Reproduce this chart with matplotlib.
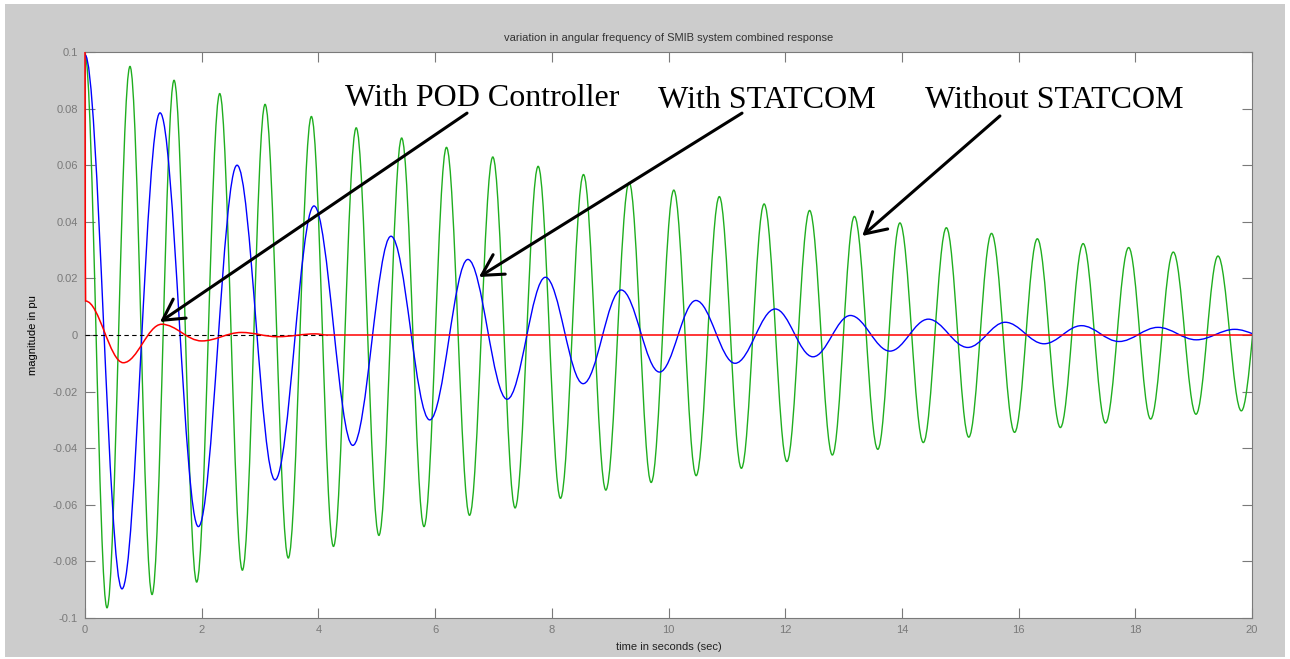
import matplotlib
matplotlib.use("Agg")
import matplotlib.pyplot as plt
from matplotlib.path import Path
from matplotlib.patches import PathPatch, Rectangle
from matplotlib.ticker import FixedLocator, FuncFormatter


# ── data ──────────────────────────────────────────────────────────────────────

# without STATCOM: times / values of successive peaks and troughs
green_t = [0.0, 0.377, 0.771, 1.149, 1.526, 1.914, 2.309, 2.697, 3.086, 3.484,
           3.88, 4.258, 4.648, 5.037, 5.427, 5.81, 6.195, 6.59, 6.989, 7.371,
           7.766, 8.149, 8.543, 8.926, 9.326, 9.703, 10.091, 10.474, 10.871, 11.249,
           11.639, 12.029, 12.418, 12.808, 13.186, 13.587, 13.966, 14.367, 14.762, 15.146,
           15.536, 15.931, 16.321, 16.716, 17.106, 17.49, 17.886, 18.263, 18.651, 19.04,
           19.417, 19.817, 20.2]
green_v = [0.099, -0.0964, 0.0949, -0.0917, 0.090, -0.0873, 0.0853, -0.0831, 0.0815, -0.0788,
           0.0772, -0.0747, 0.0732, -0.0708, 0.0696, -0.0677, 0.0663, -0.0637, 0.0629, -0.0611,
           0.0596, -0.0577, 0.0567, -0.0548, 0.0539, -0.0521, 0.0512, -0.0497, 0.0489, -0.0471,
           0.0463, -0.0447, 0.044, -0.0424, 0.0419, -0.0404, 0.0396, -0.038, 0.0379, -0.0361,
           0.0359, -0.0344, 0.034, -0.0327, 0.0323, -0.0311, 0.0309, -0.0297, 0.0293, -0.028,
           0.0279, -0.0268, 0.026]

# with STATCOM
blue_t = [0.0, 0.634, 1.286, 1.943, 2.606, 3.256, 3.925, 4.59, 5.244, 5.908,
          6.562, 7.234, 7.891, 8.537, 9.189, 9.846, 10.47, 11.14, 11.828, 12.476,
          13.117, 13.794, 14.453, 15.129, 15.771, 16.436, 17.077, 17.72, 18.389, 19.046,
          19.703, 20.36]
blue_v = [0.099, -0.0897, 0.0785, -0.0677, 0.060, -0.0512, 0.0456, -0.039, 0.0349, -0.030,
          0.0267, -0.0227, 0.0204, -0.0172, 0.0159, -0.0131, 0.0122, -0.010, 0.0092, -0.0077,
          0.0069, -0.0057, 0.0056, -0.0044, 0.0045, -0.0031, 0.0033, -0.0023, 0.0027, -0.0017,
          0.002, -0.0015]

# with POD controller (initial drop, then peaks / troughs, then flat)
red_t = [0.0, 0.004, 0.01, 0.657, 1.314, 2.0, 2.68, 3.3, 3.95, 4.14, 20.0]
red_v = [0.1, 0.031, 0.012, -0.0098, 0.0038, -0.0021, 0.0009, -0.0006, 0.0004, 0.0, 0.0]

x_ticks = [0, 2, 4, 6, 8, 10, 12, 14, 16, 18, 20]
y_ticks = [-0.1, -0.08, -0.06, -0.04, -0.02, 0.0, 0.02, 0.04, 0.06, 0.08, 0.1]

labels = ["With POD Controller", "With STATCOM", "Without STATCOM"]
label_xy = [(4.456, 0.0809), (9.82, 0.0802), (14.40, 0.0802)]
arrow_tail = [(6.547, 0.0784), (11.26, 0.0784), (15.68, 0.0774)]
arrow_head = [(1.285, 0.0046), (6.752, 0.0205), (13.32, 0.035)]


# ── helpers ───────────────────────────────────────────────────────────────────

K = 0.36  # bezier handle length (fraction of the gap between extrema)


def _wave(ts, vs, head=0, tail=0):
    """Path through extrema with flat tangents; first/last few gaps straight."""
    verts = [(ts[0], vs[0])]
    codes = [Path.MOVETO]
    n = len(ts)
    for i in range(n - 1):
        t0, v0, t1, v1 = ts[i], vs[i], ts[i + 1], vs[i + 1]
        if i < head or i >= n - 1 - tail:
            verts.append((t1, v1))
            codes.append(Path.LINETO)
        else:
            dt = t1 - t0
            verts += [(t0 + K * dt, v0), (t1 - K * dt, v1), (t1, v1)]
            codes += [Path.CURVE4] * 3
    return Path(verts, codes)


# ── plot ──────────────────────────────────────────────────────────────────────

fig = plt.figure(figsize=(12.9, 6.59), dpi=100)
fig.patch.set_facecolor("white")
fig.patches.append(Rectangle((5 / 1290, 2 / 659), 1280 / 1290, 653 / 659,
                             transform=fig.transFigure, facecolor="#cccccc",
                             edgecolor="none", zorder=-10))

ax = fig.add_axes([85 / 1290, 1 - 618 / 659, 1167 / 1290, 566 / 659])
ax.set_facecolor("white")

ax.add_patch(PathPatch(_wave(green_t, green_v), fill=False, edgecolor="#1fae1f", lw=1.0, zorder=2))
ax.add_patch(PathPatch(_wave(blue_t, blue_v), fill=False, edgecolor="#0000ff", lw=1.0, zorder=3))
ax.plot([0, red_t[-2]], [0, 0], color="black", lw=0.8, linestyle=(0, (4, 3)), zorder=4)
ax.add_patch(PathPatch(_wave(red_t, red_v, head=2, tail=1), fill=False, edgecolor="#ff0000",
                       lw=1.1, zorder=5, clip_on=False))

ax.set_xlim(0, 20)
ax.set_ylim(-0.1, 0.1)
ax.xaxis.set_major_locator(FixedLocator(x_ticks))
ax.yaxis.set_major_locator(FixedLocator(y_ticks))
ax.xaxis.set_major_formatter(FuncFormatter(lambda v, _: "%g" % v))
ax.yaxis.set_major_formatter(FuncFormatter(lambda v, _: "0" if abs(v) < 1e-9 else "%g" % v))
ax.tick_params(direction="in", length=7, width=0.8, top=True, right=True,
               colors="#7a7a7a", labelsize=8, pad=5)
for lab in ax.get_xticklabels() + ax.get_yticklabels():
    lab.set_family("Liberation Sans")
for sp in ax.spines.values():
    sp.set_color("#7a7a7a")
    sp.set_linewidth(0.8)

ax.set_title("variation in angular frequency of SMIB system combined response",
             fontsize=8, family="Liberation Sans", color="#333333", pad=8)
ax.set_xlabel("time in seconds (sec)", fontsize=8, family="Liberation Sans", color="#222222")
ax.set_ylabel("magnitude in pu", fontsize=8, family="Liberation Sans", color="black")
ax.xaxis.set_label_coords(0.5, -0.042)
ax.yaxis.set_label_coords(-0.040, 0.5)

for text, (tx, ty), tail, head in zip(labels, label_xy, arrow_tail, arrow_head):
    ax.text(tx, ty, text, fontsize=23, family="Liberation Serif", color="black",
            ha="left", va="baseline", zorder=6)
    ax.annotate("", xy=head, xytext=tail,
                arrowprops=dict(arrowstyle="->, head_length=0.45, head_width=0.25",
                                color="black", lw=2.2, mutation_scale=33,
                                shrinkA=0, shrinkB=0),
                zorder=6)

fig.savefig("out.png", dpi=100, facecolor=fig.get_facecolor())
